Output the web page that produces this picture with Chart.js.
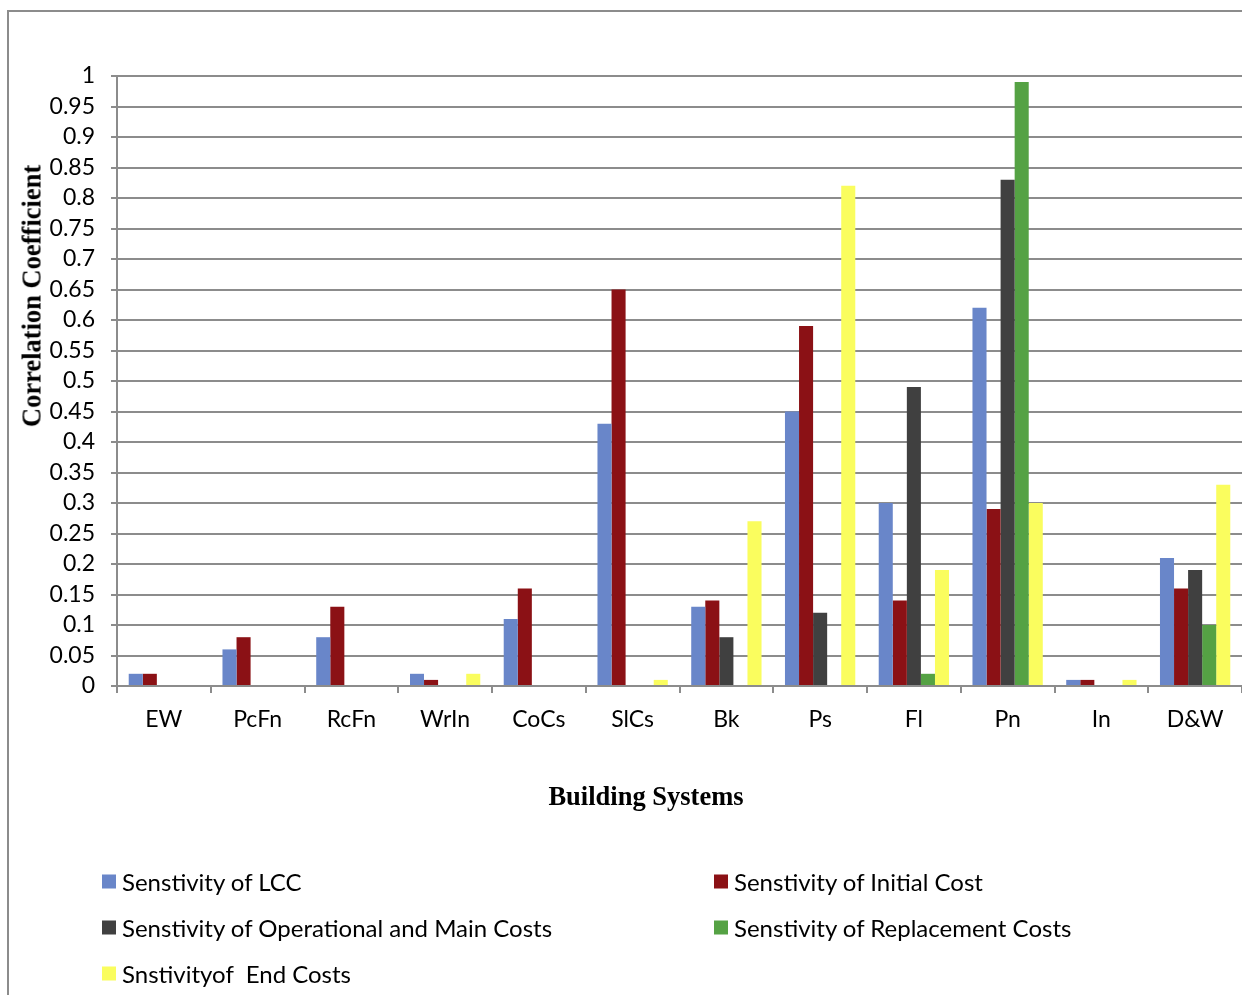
<!DOCTYPE html>
<html>
<head>
<meta charset="utf-8">
<script src="https://cdn.jsdelivr.net/npm/chart.js@4/dist/chart.umd.min.js"></script>
<style>
  body { margin: 0; background: #fff; }
  #wrap { position: relative; width: 1242px; height: 995px; overflow: hidden; }
  #frame { position: absolute; left: 7px; top: 10px; width: 1300px; height: 1100px;
           border-left: 2px solid #8c8c8c; border-top: 2px solid #8c8c8c; }
  #chart { position: absolute; left: 0; top: 0; }
  .ttl { position: absolute; font-family: "Liberation Serif", serif; font-weight: bold;
         font-size: 26.5px; color: #000; white-space: nowrap; }
  #ytitle { left: 32px; top: 296px; transform: translate(-50%, -50%) rotate(-90deg); }
  #xtitle { left: 646px; top: 796px; transform: translate(-50%, -50%); }
  .lg { position: absolute; font-family: Lato, sans-serif; font-size: 24px; color: #000;
        white-space: pre; transform: translateY(-50%); display: flex; align-items: center; }
  .lg span.box { display: inline-block; width: 14px; height: 14px; margin-right: 6px; }
</style>
</head>
<body>
<div id="wrap">
  <div id="frame"></div>
  <canvas id="chart" width="1242" height="995"></canvas>
  <div class="ttl" id="ytitle">Correlation Coefficient</div>
  <div class="ttl" id="xtitle">Building Systems</div>
  <div id="legend"></div>
</div>
<script>
const systems = ['EW', 'PcFn', 'RcFn', 'WrIn', 'CoCs', 'SlCs', 'Bk', 'Ps', 'Fl', 'Pn', 'In', 'D&W'];
const lcc         = [0.02, 0.06, 0.08, 0.02, 0.11, 0.43, 0.13, 0.45, 0.30, 0.62, 0.01, 0.21];
const initialCost = [0.02, 0.08, 0.13, 0.01, 0.16, 0.65, 0.14, 0.59, 0.14, 0.29, 0.01, 0.16];
const operational = [0, 0, 0, 0, 0, 0, 0.08, 0.12, 0.49, 0.83, 0, 0.19];
const replacement = [0, 0, 0, 0, 0, 0, 0, 0, 0.02, 0.99, 0, 0.10];
const endCosts    = [0, 0, 0, 0.02, 0, 0.01, 0.27, 0.82, 0.19, 0.30, 0.01, 0.33];

const datasets = [
    {label: 'Senstivity of LCC', data: lcc, backgroundColor: '#6986c9'},
    {label: 'Senstivity of Initial Cost', data: initialCost, backgroundColor: '#8b1115'},
    {label: 'Senstivity of Operational and Main Costs', data: operational, backgroundColor: '#404040'},
    {label: 'Senstivity of Replacement Costs', data: replacement, backgroundColor: '#55a244'},
    {label: 'Snstivityof  End Costs', data: endCosts, backgroundColor: '#fafd5e'},
];

const tickFont = {family: 'Lato, sans-serif', size: 23};
const gridColor = '#8c8c8c';

new Chart(document.getElementById('chart').getContext('2d'), {
    type: 'bar',
    data: {
        labels: systems,
        datasets: datasets.map(ds => ({...ds, categoryPercentage: 0.75, barPercentage: 1.0}))
    },
    options: {
        responsive: false,
        animation: false,
        layout: {padding: {top: 76, right: 0, left: 0, bottom: 249}},
        plugins: {
            legend: {display: false},
            tooltip: {enabled: false}
        },
        scales: {
            x: {
                grid: {drawOnChartArea: false, drawTicks: true, tickLength: 7, color: gridColor, lineWidth: 2},
                border: {color: gridColor, width: 2},
                ticks: {color: '#000', font: tickFont, padding: 13, maxRotation: 0, autoSkip: false},
                afterFit: scale => { scale.height = 60; }
            },
            y: {
                min: 0, max: 1,
                grid: {color: gridColor, lineWidth: 2, tickLength: 6},
                border: {color: gridColor, width: 2},
                ticks: {stepSize: 0.05, autoSkip: false, color: '#000', font: tickFont, padding: 16,
                        callback: v => String(Math.round(v * 100) / 100)},
                afterFit: scale => { scale.width = 117; }
            }
        }
    }
});

// legend laid out in two columns like the original
const legendPos = [[102, 881], [714, 881], [102, 927], [714, 927], [102, 973]];
const legend = document.getElementById('legend');
datasets.forEach((ds, i) => {
    const el = document.createElement('div');
    el.className = 'lg';
    el.style.left = legendPos[i][0] + 'px';
    el.style.top = legendPos[i][1] + 'px';
    el.innerHTML = `<span class="box" style="background:${ds.backgroundColor}"></span>`;
    el.appendChild(document.createTextNode(ds.label));
    legend.appendChild(el);
});
</script>
</body>
</html>
